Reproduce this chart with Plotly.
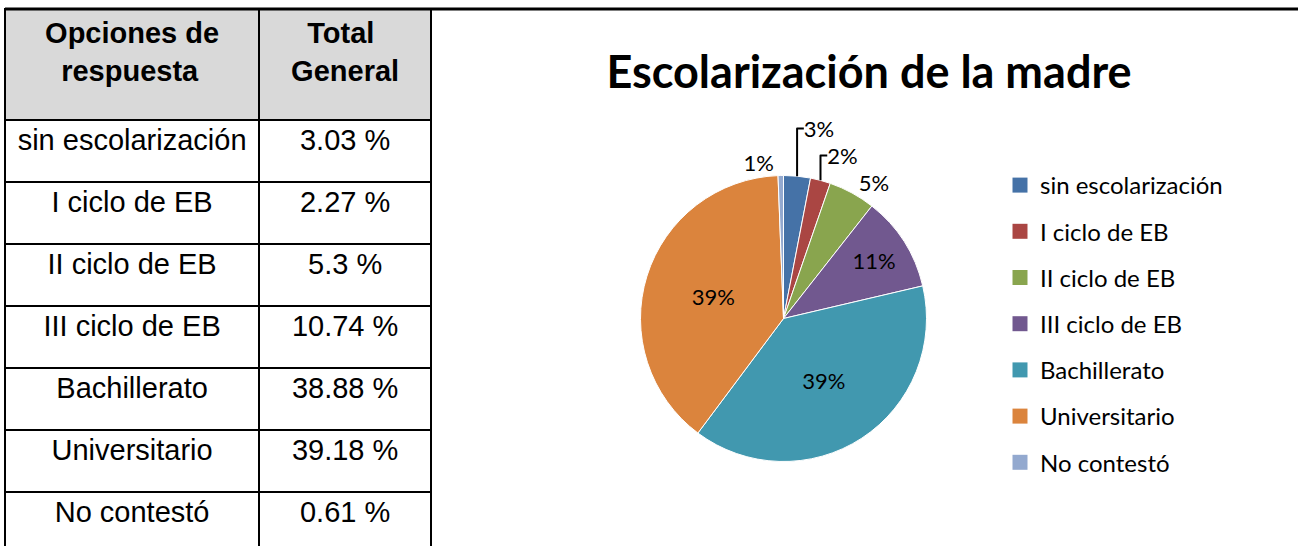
import plotly.graph_objects as go

# ---- data ----
categorias = ["sin escolarización", "I ciclo de EB", "II ciclo de EB", "III ciclo de EB",
              "Bachillerato", "Universitario", "No contestó"]
porcentajes = [3.03, 2.27, 5.3, 10.74, 38.88, 39.18, 0.61]
porcentajes_txt = ["3.03 %", "2.27 %", "5.3 %", "10.74 %", "38.88 %", "39.18 %", "0.61 %"]
encabezados = ["Opciones de<br>\u00a0\u00a0respuesta", "\u00a0\u00a0Total<br>General"]
colores = ["#4572A7", "#AA4643", "#89A54E", "#71588F", "#4198AF", "#DB843D", "#93A9CF"]
titulo = "<b>Escolarización de la madre</b>"

W, H = 1298, 546

fig = go.Figure()

# table
fig.add_trace(go.Table(
    domain=dict(x=[5 / W, 431 / W], y=[0, (H - 9) / H]),
    columnwidth=[253, 171],
    header=dict(values=encabezados, fill_color="#D9D9D9",
                line=dict(color="black", width=2), align="center",
                font=dict(family="Liberation Sans, Arial", size=29, color="black", weight="bold"),
                height=111),
    cells=dict(values=[categorias, porcentajes_txt], fill_color="white",
               line=dict(color="black", width=2), align="center",
               font=dict(family="Liberation Sans, Arial", size=29, color="black"),
               height=62),
))

# pie
textpos = ["outside", "outside", "outside", "inside", "inside", "inside", "outside"]
fig.add_trace(go.Pie(
    labels=categorias, values=porcentajes, sort=False, direction="clockwise", rotation=0,
    marker=dict(colors=colores, line=dict(color="white", width=1)),
    texttemplate="%{percent:.0%}", textposition=textpos,
    textfont=dict(family="Lato", size=22, color="black"),
    insidetextfont=dict(family="Lato", size=22, color="black"),
    outsidetextfont=dict(family="Lato", size=22, color="black"),
    domain=dict(x=[640.5 / W, 926.5 / W], y=[84.5 / H, 370.5 / H]),
    showlegend=False, hoverinfo="label+percent",
))

# legend entries (one per category)
for cat, col in zip(categorias, colores):
    fig.add_trace(go.Scatter(x=[None], y=[None], mode="markers", name=cat,
                             legendgroup=cat,
                             marker=dict(symbol="square", size=15, color=col)))

fig.add_shape(type="line", xref="paper", yref="paper", x0=5 / W, x1=1, y0=(H - 9) / H, y1=(H - 9) / H,
              line=dict(color="black", width=3))

fig.update_layout(
    width=W, height=H, margin=dict(l=0, r=0, t=0, b=0),
    paper_bgcolor="white", plot_bgcolor="white",
    title=dict(text=titulo, x=869 / W, xanchor="center", y=1 - 72 / H, yanchor="middle",
               font=dict(family="Lato", size=45, color="black")),
    xaxis=dict(visible=False), yaxis=dict(visible=False),
    legend=dict(x=1000 / W, xanchor="left", y=1 - 163 / H, yanchor="top",
                font=dict(family="Lato", size=24, color="black"),
                tracegroupgap=12, bgcolor="rgba(0,0,0,0)"),
)

fig.write_html("out.html", post_script="document.body.style.margin='0';",
               config={"displayModeBar": False})
